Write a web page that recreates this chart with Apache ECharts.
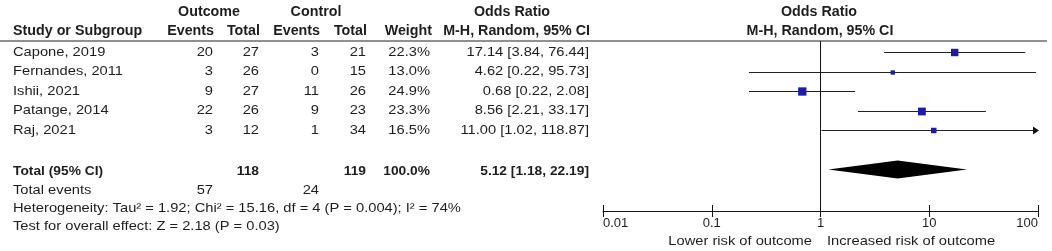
<!DOCTYPE html>
<html>
<head>
<meta charset="utf-8">
<script src="https://cdn.jsdelivr.net/npm/echarts@6/dist/echarts.min.js"></script>
<style>
  html, body { margin: 0; padding: 0; background: #fff; }
  #chart { width: 1052px; height: 251px; }
</style>
</head>
<body>
<div id="chart"></div>
<script>
// study rows
const studies = ["Capone, 2019", "Fernandes, 2011", "Ishii, 2021", "Patange, 2014", "Raj, 2021"];
const expEvents = [20, 3, 9, 22, 3];
const expTotal = [27, 26, 27, 26, 12];
const ctrlEvents = [3, 0, 11, 9, 1];
const ctrlTotal = [21, 15, 26, 23, 34];
const weights = [22.3, 13.0, 24.9, 23.3, 16.5];
const oddsRatio = [17.14, 4.62, 0.68, 8.56, 11.00];
const ciLow = [3.84, 0.22, 0.22, 2.21, 1.02];
const ciHigh = [76.44, 95.73, 2.08, 33.17, 118.87];

// pooled result: [low, estimate, high]
const pooled = [1.18, 5.12, 22.19];
const totalExp = 118;
const totalCtrl = 119;
const eventsExp = 57;
const eventsCtrl = 24;
const heterogeneity = "Heterogeneity: Tau² = 1.92; Chi² = 15.16, df = 4 (P = 0.004); I² = 74%";
const overallTest = "Test for overall effect: Z = 2.18 (P = 0.03)";

const tickLabels = ["0.01", "0.1", "1", "10", "100"];

const FONT = "Liberation Sans, Arial, sans-serif";
const TXT = "#1e1e1e";
const ROW0 = 52, ROWH = 19.6;
const rowY = (r) => ROW0 + (r - 1) * ROWH;
const X_MIN = 0.01, X_MAX = 100;

// table text helpers; kind: "head" | "bold" | normal
const texts = [];
const addText = (str, x, y, align, kind) => {
  const head = kind === "head";
  const bold = head || kind === "bold";
  texts.push({
    type: "text",
    x: x,
    y: y,
    scaleX: head ? 1.02 : bold ? 1.06 : 1.13,
    silent: true,
    style: {
      text: String(str),
      x: 0,
      y: 0,
      textAlign: align,
      textVerticalAlign: "middle",
      font: (bold ? "bold " : "") + (head ? "14px " : "13px ") + FONT,
      fill: TXT,
    },
  });
};

// headers
addText("Outcome", 209, 12, "center", "head");
addText("Control", 316, 12, "center", "head");
addText("Odds Ratio", 512, 12, "center", "head");
addText("Odds Ratio", 819, 12, "center", "head");
addText("Study or Subgroup", 13, 31, "left", "head");
addText("Events", 214, 31, "right", "head");
addText("Total", 260, 31, "right", "head");
addText("Events", 320, 31, "right", "head");
addText("Total", 367, 31, "right", "head");
addText("Weight", 432, 31, "right", "head");
addText("M-H, Random, 95% CI", 590, 31, "right", "head");
addText("M-H, Random, 95% CI", 820, 31, "center", "head");

studies.forEach((name, i) => {
  const y = rowY(i + 1);
  addText(name, 13, y, "left");
  addText(expEvents[i], 213, y, "right");
  addText(expTotal[i], 259, y, "right");
  addText(ctrlEvents[i], 319, y, "right");
  addText(ctrlTotal[i], 366, y, "right");
  addText(weights[i].toFixed(1) + "%", 430, y, "right");
  addText(oddsRatio[i].toFixed(2) + " [" + ciLow[i].toFixed(2) + ", " + ciHigh[i].toFixed(2) + "]", 589, y, "right");
});

const totalRowY = 171;
addText("Total (95% CI)", 13, totalRowY, "left", "bold");
addText(totalExp, 259, totalRowY, "right", "bold");
addText(totalCtrl, 366, totalRowY, "right", "bold");
addText("100.0%", 430, totalRowY, "right", "bold");
addText(pooled[1].toFixed(2) + " [" + pooled[0].toFixed(2) + ", " + pooled[2].toFixed(2) + "]", 589, totalRowY, "right", "bold");
addText("Total events", 13, 190, "left");
addText(eventsExp, 213, 190, "right");
addText(eventsCtrl, 319, 190, "right");
addText(heterogeneity, 13, 208, "left");
addText(overallTest, 13, 226, "left");

addText("Lower risk of outcome", 812, 241, "right");
addText("Increased risk of outcome", 827, 241, "left");

const headerRule = {
  type: "line",
  silent: true,
  shape: { x1: 0, y1: 41, x2: 1047, y2: 41 },
  style: { stroke: "#222", lineWidth: 1.2 },
};

const studyData = studies.map((_, i) => [ciLow[i], oddsRatio[i], ciHigh[i], i + 1, weights[i]]);

const chart = echarts.init(document.getElementById("chart"), null, { renderer: "canvas" });

const logAxis = {
  type: "log",
  logBase: 10,
  min: X_MIN,
  max: X_MAX,
  gridIndex: 0,
  position: "bottom",
  splitLine: { show: false },
};

chart.setOption({
  animation: false,
  textStyle: { fontFamily: FONT },
  grid: { left: 603, width: 435, top: 41, height: 170, containLabel: false },
  xAxis: [
    {
      ...logAxis,
      axisLine: { show: true, lineStyle: { color: "#111", width: 1 } },
      axisTick: { show: true, length: 6, lineStyle: { color: "#111", width: 1 } },
      axisLabel: {
        show: true,
        margin: 6,
        fontSize: 13,
        color: TXT,
        fontFamily: FONT,
        alignMinLabel: "left",
        alignMaxLabel: "right",
        formatter: (v) => tickLabels[Math.round(Math.log10(v)) + 2] || "",
      },
    },
    {
      ...logAxis,
      axisLine: { show: false },
      axisLabel: { show: false },
      axisTick: { show: true, inside: true, length: 6, lineStyle: { color: "#111", width: 1 } },
    },
  ],
  yAxis: {
    type: "value",
    min: 1 - 11 / ROWH,
    max: 1 + 159 / ROWH,
    inverse: true,
    show: false,
  },
  series: [
    {
      type: "custom",
      name: "studies",
      silent: true,
      clip: false,
      encode: { x: [0, 1, 2], y: 3 },
      data: studyData,
      renderItem: (params, api) => {
        const lo = api.value(0);
        const est = api.value(1);
        const hi = api.value(2);
        const row = api.value(3);
        const w = api.value(4);
        const pLo = api.coord([Math.max(lo, X_MIN), row]);
        const pHi = api.coord([Math.min(hi, X_MAX), row]);
        const pEst = api.coord([est, row]);
        const size = w / 3;
        const y = Math.round(pLo[1]) + 0.5;
        const children = [
          {
            type: "line",
            shape: { x1: pLo[0], y1: y, x2: pHi[0], y2: y },
            style: { stroke: "#222", lineWidth: 1.2 },
          },
          {
            type: "rect",
            shape: { x: pEst[0] - size / 2, y: y - size / 2, width: size, height: size },
            style: { fill: "#1c1ca8" },
          },
        ];
        if (hi > X_MAX) {
          children.push({
            type: "polygon",
            shape: { points: [[pHi[0] + 1, y], [pHi[0] - 5, y - 4], [pHi[0] - 5, y + 4]] },
            style: { fill: "#111" },
          });
        }
        return { type: "group", children: children };
      },
    },
    {
      type: "custom",
      name: "pooled",
      silent: true,
      encode: { x: [0, 1, 2], y: 3 },
      data: [[pooled[0], pooled[1], pooled[2], 7]],
      renderItem: (params, api) => {
        const row = api.value(3);
        const pL = api.coord([api.value(0), row]);
        const pC = api.coord([api.value(1), row]);
        const pR = api.coord([api.value(2), row]);
        return {
          type: "polygon",
          shape: { points: [[pL[0], pC[1]], [pC[0], pC[1] - 9], [pR[0], pC[1]], [pC[0], pC[1] + 9]] },
          style: { fill: "#000" },
        };
      },
      markLine: {
        silent: true,
        symbol: "none",
        label: { show: false },
        lineStyle: { color: "#111", width: 1, type: "solid" },
        data: [{ xAxis: 1 }],
      },
    },
  ],
  graphic: [headerRule, ...texts],
});
</script>
</body>
</html>
